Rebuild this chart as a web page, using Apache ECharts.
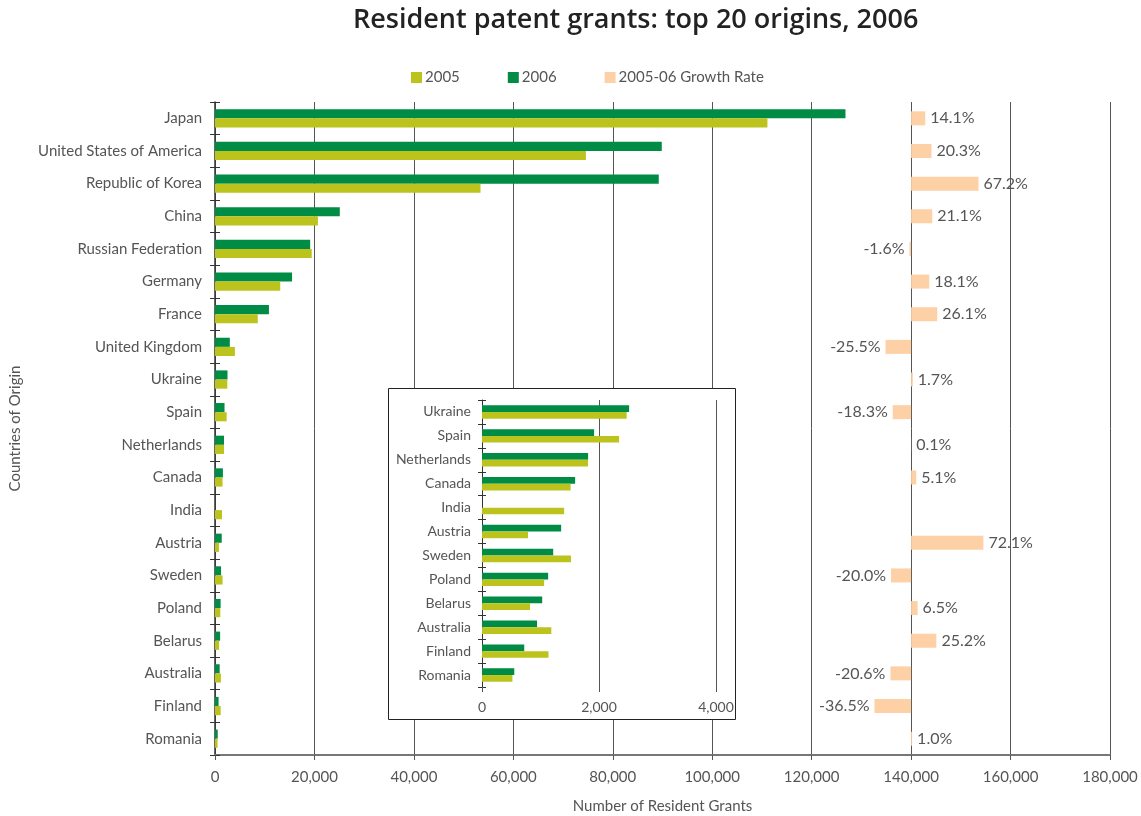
<!DOCTYPE html>
<html>
<head>
<meta charset="utf-8">
<script src="https://cdn.jsdelivr.net/npm/echarts@6/dist/echarts.min.js"></script>
<style>html,body{margin:0;padding:0;background:#fff}#c{width:1141px;height:816px}</style>
</head>
<body>
<div id="c"></div>
<script>
const countries = ['Japan','United States of America','Republic of Korea','China','Russian Federation','Germany','France','United Kingdom','Ukraine','Spain','Netherlands','Canada','India','Austria','Sweden','Poland','Belarus','Australia','Finland','Romania'];
const grants2005 = [111100,74600,53400,20700,19450,13120,8600,4000,2473,2343,1812,1515,1404,786,1521,1062,822,1185,1137,520];
const grants2006 = [126800,89850,89250,25100,19140,15500,10850,2980,2515,1916,1814,1592,0,1353,1217,1131,1029,941,722,552];
const growth = [14.1,20.3,67.2,21.1,-1.6,18.1,26.1,-25.5,1.7,-18.3,0.1,5.1,null,72.1,-20.0,6.5,25.2,-20.6,-36.5,1.0];
const insetCountries = countries.slice(8);
const inset2005 = grants2005.slice(8);
const inset2006 = grants2006.slice(8);

const C2005 = '#bcc31d', C2006 = '#008c44', CGR = '#fdd0a6';
const FONT = 'Lato';
const TXT = '#555';

const chart = echarts.init(document.getElementById('c'));
const fmt = v => v.toLocaleString('en-US');

chart.setOption({
  animation: false,
  textStyle: {fontFamily: FONT},
  title: {
    text: 'Resident patent grants: top 20 origins, 2006',
    left: 348, top: 2,
    textStyle: {fontFamily: 'Open Sans', fontSize: 27, fontWeight: 600, color: '#222'}
  },
  legend: {
    data: ['2005','2006','2005-06 Growth Rate'],
    left: 406, top: 65, icon: 'rect', itemWidth: 11, itemHeight: 11, itemGap: 48,
    textStyle: {fontFamily: FONT, fontSize: 15, color: TXT, padding: [0,0,0,-2]}
  },
  graphic: [{
    type: 'rect', z: 1,
    shape: {x: 388.5, y: 388.5, width: 347, height: 331},
    style: {fill: '#fff', stroke: '#222', lineWidth: 1}
  }],
  grid: [
    {left: 215, top: 102, width: 895, height: 653, outerBoundsMode: 'none', containLabel: false},
    {left: 215, top: 102, width: 895, height: 653, outerBoundsMode: 'none', containLabel: false},
    {left: 482, top: 400, width: 234, height: 287, outerBoundsMode: 'none', containLabel: false}
  ],
  xAxis: [
    {gridIndex: 0, type: 'value', min: 0, max: 180000, interval: 20000,
     name: 'Number of Resident Grants', nameLocation: 'middle', nameGap: 44,
     nameTextStyle: {fontSize: 15, color: TXT, fontFamily: FONT},
     axisLine: {show: true, lineStyle: {color: '#777', width: 2}},
     axisTick: {show: true, length: 5, lineStyle: {color: '#555'}},
     axisLabel: {fontSize: 15, color: TXT, margin: 15, formatter: fmt},
     splitLine: {show: true, lineStyle: {color: '#555', width: 1}}},
    {gridIndex: 1, type: 'value', min: -694, max: 198.3, show: false},
    {gridIndex: 2, type: 'value', min: 0, max: 4000, interval: 2000, z: 3,
     axisLine: {show: false},
     axisTick: {show: true, length: 5, lineStyle: {color: '#555'}},
     axisLabel: {fontSize: 14, color: TXT, margin: 13, formatter: fmt, showMinLabel: true, showMaxLabel: true},
     splitLine: {show: true, lineStyle: {color: '#555', width: 1}}}
  ],
  yAxis: [
    {gridIndex: 0, type: 'category', data: countries, inverse: true,
     name: 'Countries of Origin', nameLocation: 'middle', nameGap: 192, nameRotate: 90,
     nameTextStyle: {fontSize: 15, color: TXT, fontFamily: FONT},
     axisLine: {show: true, onZero: false, lineStyle: {color: '#333', width: 1.5}},
     axisTick: {show: true, length: 5, lineStyle: {color: '#333'}},
     axisLabel: {fontSize: 15, color: TXT, margin: 13}},
    {gridIndex: 1, type: 'category', data: countries, inverse: true, position: 'left',
     axisLine: {show: false, onZero: false},
     axisTick: {show: true, inside: true, length: 5, lineStyle: {color: '#333'}},
     axisLabel: {show: false}},
    {gridIndex: 2, type: 'category', data: insetCountries, inverse: true, z: 3,
     axisLine: {show: true, onZero: false, lineStyle: {color: '#333', width: 1}},
     axisTick: {show: true, length: 4, lineStyle: {color: '#333'}},
     axisLabel: {fontSize: 14, color: TXT, margin: 11}},
    {gridIndex: 2, type: 'category', data: insetCountries, inverse: true, position: 'left', z: 3,
     axisLine: {show: false, onZero: false},
     axisTick: {show: true, inside: true, length: 4, lineStyle: {color: '#333'}},
     axisLabel: {show: false}}
  ],
  series: [
    {name: '2006', type: 'bar', xAxisIndex: 0, yAxisIndex: 0, data: grants2006,
     itemStyle: {color: C2006}, barGap: '0%', barCategoryGap: '44%', z: 2},
    {name: '2005', type: 'bar', xAxisIndex: 0, yAxisIndex: 0, data: grants2005,
     itemStyle: {color: C2005}, barGap: '0%', barCategoryGap: '44%', z: 2},
    {name: '2005-06 Growth Rate', type: 'bar', xAxisIndex: 1, yAxisIndex: 1, barWidth: 14,
     itemStyle: {color: CGR},
     data: growth.map(v => v === null ? '-' : {value: v, label: {position: v < 0 ? 'left' : 'right'}}),
     label: {show: true, fontSize: 16, color: TXT, distance: 5, fontFamily: FONT,
             formatter: p => Number(p.value).toFixed(1) + '%'}},
    {name: '2006', type: 'bar', xAxisIndex: 2, yAxisIndex: 2, data: inset2006,
     itemStyle: {color: C2006}, barGap: '0%', barCategoryGap: '44%', z: 4},
    {name: '2005', type: 'bar', xAxisIndex: 2, yAxisIndex: 2, data: inset2005,
     itemStyle: {color: C2005}, barGap: '0%', barCategoryGap: '44%', z: 4}
  ]
});
</script>
</body>
</html>
